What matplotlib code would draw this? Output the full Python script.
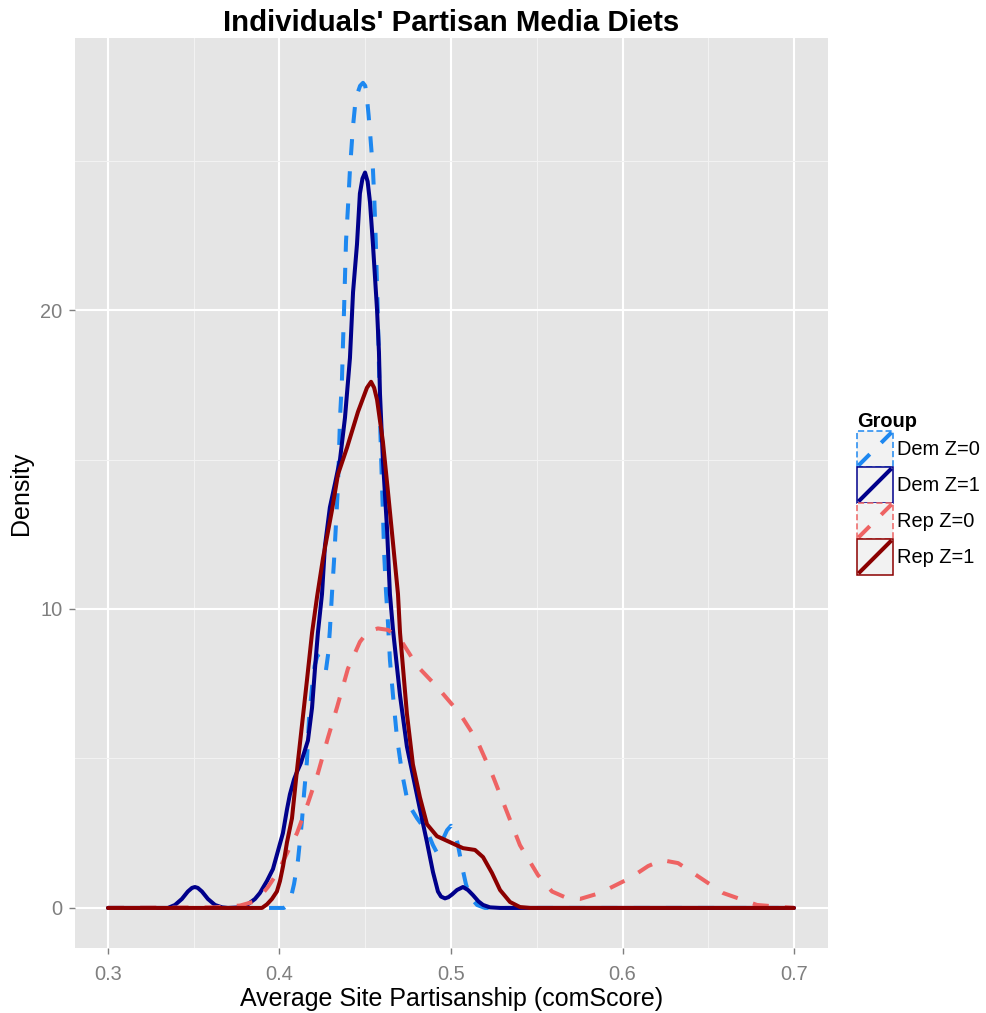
import matplotlib
matplotlib.use("Agg")
import matplotlib.pyplot as plt
from matplotlib.legend_handler import HandlerBase
from matplotlib.lines import Line2D
from matplotlib.patches import Rectangle
from matplotlib.ticker import MultipleLocator

plt.rcParams['font.family'] = ['Liberation Sans', 'DejaVu Sans']

# density curves (x = partisanship, y = density)
dem0_x = [0.300, 0.400, 0.4026, 0.4045, 0.4065, 0.4085, 0.4108, 0.4131, 0.4143, 0.4160,
          0.4172, 0.4190, 0.4205, 0.4222, 0.4240, 0.4255, 0.4271, 0.4284, 0.4294, 0.4306,
          0.4318, 0.4330, 0.4341, 0.4347, 0.4353, 0.4364, 0.4370, 0.4376, 0.4382, 0.4388,
          0.4399, 0.4411, 0.4428, 0.4440, 0.4452, 0.4470, 0.4487, 0.4500, 0.4510, 0.4520,
          0.4530, 0.4545, 0.4553, 0.4561, 0.4567, 0.4573, 0.4580, 0.4586, 0.4592, 0.4598,
          0.4604, 0.4610, 0.4621, 0.4633, 0.4644, 0.4662, 0.4685, 0.4715, 0.4749, 0.4802,
          0.4866, 0.4895, 0.4918, 0.4936, 0.4953, 0.4977, 0.5000, 0.5023, 0.5041, 0.5064,
          0.5087, 0.5111, 0.5152, 0.5198, 0.700]
dem0_y = [0.0, 0.0, 0.0, 0.08, 0.3, 0.8, 1.6, 2.9, 3.8, 4.9,
          6.3, 7.4, 8.1, 8.45, 8.3, 8.0, 7.95, 8.5, 9.3, 10.5,
          11.6, 12.9, 14.1, 15.2, 16.4, 17.6, 18.8, 19.9, 21.1, 22.3,
          23.4, 24.7, 26.1, 26.8, 27.2, 27.5, 27.6, 27.5, 27.1, 26.5,
          25.8, 24.7, 23.7, 22.4, 21.2, 20.0, 18.2, 16.4, 15.2, 14.1,
          13.1, 11.9, 10.6, 9.5, 8.3, 7.1, 5.7, 4.5, 3.5, 3.0,
          2.5, 2.1, 1.85, 1.95, 2.3, 2.6, 2.75, 2.5, 2.1, 1.4,
          0.8, 0.37, 0.1, 0.0, 0.0]

dem1_x = [0.300, 0.3350, 0.3391, 0.3431, 0.3466, 0.3490, 0.3507, 0.3524, 0.3548, 0.3583,
          0.3624, 0.3665, 0.3700, 0.3770, 0.3810, 0.3857, 0.3886, 0.3927, 0.3962, 0.3991,
          0.4020, 0.4044, 0.4061, 0.4085, 0.4102, 0.4125, 0.4166, 0.4190, 0.4207, 0.4224,
          0.4248, 0.4265, 0.4294, 0.4324, 0.4353, 0.4382, 0.4411, 0.4429, 0.4452, 0.4469,
          0.4484, 0.4499, 0.4514, 0.4528, 0.4545, 0.4569, 0.4580, 0.4586, 0.4603, 0.4627,
          0.4644, 0.4662, 0.4703, 0.4743, 0.4761, 0.4819, 0.4860, 0.4895, 0.4924, 0.4942,
          0.4965, 0.4985, 0.5006, 0.5035, 0.5070, 0.5099, 0.5128, 0.5160, 0.5187, 0.5227,
          0.5286, 0.700]
dem1_y = [0.0, 0.0, 0.1, 0.3, 0.55, 0.67, 0.7, 0.67, 0.55, 0.3,
          0.1, 0.02, 0.0, 0.02, 0.1, 0.3, 0.5, 0.9, 1.3, 1.9,
          2.5, 3.3, 3.8, 4.3, 4.55, 4.85, 5.6, 6.7, 8.0, 9.2,
          10.5, 12.1, 13.4, 14.2, 15.0, 16.4, 18.4, 20.6, 22.2, 23.9,
          24.4, 24.6, 24.3, 23.6, 22.2, 20.0, 18.6, 17.2, 15.0, 12.7,
          10.5, 9.3, 7.1, 5.4, 4.9, 3.3, 2.2, 1.2, 0.55, 0.38,
          0.32, 0.36, 0.45, 0.6, 0.7, 0.6, 0.43, 0.22, 0.1, 0.02,
          0.0, 0.0]

rep0_x = [0.300, 0.3624, 0.3770, 0.3845, 0.3886, 0.3933, 0.3991, 0.4050, 0.4102, 0.4166,
          0.4224, 0.4283, 0.4335, 0.4399, 0.4469, 0.4516, 0.4574, 0.4633, 0.4703, 0.4802,
          0.4918, 0.5052, 0.5152, 0.5245, 0.5327, 0.5402, 0.5507, 0.5589, 0.5676, 0.5752,
          0.5869, 0.6044, 0.6149, 0.6230, 0.6324, 0.6411, 0.6586, 0.6784, 0.6977, 0.700]
rep0_y = [0.0, 0.02, 0.08, 0.2, 0.37, 0.7, 1.2, 1.9, 2.5, 3.5,
          4.5, 5.7, 6.7, 8.0, 8.9, 9.25, 9.35, 9.3, 9.0, 8.1,
          7.4, 6.5, 5.6, 4.4, 3.2, 2.1, 1.1, 0.55, 0.33, 0.3,
          0.5, 1.0, 1.4, 1.6, 1.5, 1.17, 0.5, 0.1, 0.01, 0.0]

rep1_x = [0.300, 0.3898, 0.3927, 0.3956, 0.3985, 0.4003, 0.4021, 0.4044, 0.4073, 0.4102,
          0.4131, 0.4160, 0.4190, 0.4219, 0.4254, 0.4306, 0.4341, 0.4394, 0.4458, 0.4510,
          0.4534, 0.4552, 0.4569, 0.4603, 0.4633, 0.4662, 0.4691, 0.4703, 0.4743, 0.4778,
          0.4819, 0.4860, 0.4918, 0.4994, 0.5070, 0.5140, 0.5187, 0.5239, 0.5286, 0.5344,
          0.5402, 0.5461, 0.700]
rep1_y = [0.0, 0.0, 0.12, 0.3, 0.55, 0.9, 1.4, 2.2, 3.0, 4.6,
          6.1, 7.6, 9.2, 10.4, 11.7, 13.3, 14.5, 15.4, 16.6, 17.4,
          17.6, 17.4, 17.0, 15.6, 13.9, 12.2, 10.5, 9.2, 6.5, 4.8,
          3.7, 2.8, 2.4, 2.2, 2.0, 1.94, 1.7, 1.17, 0.6, 0.2,
          0.03, 0.0, 0.0]

groups = ["Dem Z=0", "Dem Z=1", "Rep Z=0", "Rep Z=1"]
curves = [(dem0_x, dem0_y), (dem1_x, dem1_y), (rep0_x, rep0_y), (rep1_x, rep1_y)]
colors = ["#1E88F0", "#00008B", "#EE6363", "#8B0000"]
dashed = [True, False, True, False]

x_ticks = [0.3, 0.4, 0.5, 0.6, 0.7]
y_ticks = [0, 10, 20]

LW = 2.9
DASH = (0, (4, 4))


class KeyHandler(HandlerBase):
    # ggplot-style density key: grey box with coloured outline and a diagonal
    def __init__(self, color, is_dashed):
        super().__init__()
        self.color = color
        self.ls = DASH if is_dashed else '-'
        self.box_ls = (0, (4, 2)) if is_dashed else '-'

    def create_artists(self, legend, orig_handle, xdescent, ydescent,
                       width, height, fontsize, trans):
        x0, y0 = -xdescent, -ydescent
        box = Rectangle((x0, y0), width, height, facecolor='#F2F2F2',
                        edgecolor=self.color, linestyle=self.box_ls, lw=1.1,
                        transform=trans)
        diag = Line2D([x0 + 1, x0 + width - 1], [y0 + 1, y0 + height - 1],
                      color=self.color, lw=LW, linestyle=self.ls,
                      solid_capstyle='butt', dash_capstyle='butt',
                      transform=trans)
        return [box, diag]


fig = plt.figure(figsize=(9.87, 10.13), dpi=100)
ax = fig.add_axes([75 / 987, 1 - 948 / 1013, (828 - 75) / 987, (948 - 38) / 1013])
ax.set_facecolor('#E5E5E5')

handles = []
for name, (xs, ys), col, d in zip(groups, curves, colors, dashed):
    ln, = ax.plot(xs, ys, color=col, lw=LW, linestyle=DASH if d else '-',
                  solid_capstyle='round', dash_capstyle='butt',
                  solid_joinstyle='round', dash_joinstyle='round', label=name)
    handles.append(ln)

ax.set_xlim(0.2808, 0.7198)
ax.set_ylim(-1.34, 29.1)
ax.set_xticks(x_ticks)
ax.set_xticklabels([f"{t:.1f}" for t in x_ticks])
ax.set_yticks(y_ticks)
ax.xaxis.set_minor_locator(MultipleLocator(0.05))
ax.yaxis.set_minor_locator(MultipleLocator(5))
ax.grid(which='major', color='white', lw=1.5)
ax.grid(which='minor', color='#F2F2F2', lw=0.75)
ax.set_axisbelow(True)
for s in ax.spines.values():
    s.set_visible(False)
ax.tick_params(which='major', length=4.5, width=1.0, color='#7F7F7F',
               labelcolor='#7F7F7F', labelsize=14.4, pad=4.5)
ax.tick_params(axis='x', which='major', pad=8)
ax.tick_params(which='minor', length=0)

ax.set_xlabel("Average Site Partisanship (comScore)", fontsize=18, labelpad=2)
ax.set_ylabel("Density", fontsize=18, labelpad=5)
ax.set_title("Individuals' Partisan Media Diets", fontsize=21.2,
             fontweight='bold', pad=5)

fig.legend(handles, groups, loc='upper left',
           bbox_to_anchor=(857 / 987, 1 - 412 / 1013),
           handler_map={h: KeyHandler(c, d) for h, c, d in zip(handles, colors, dashed)},
           frameon=False, fontsize=14.4, title="Group", alignment='left',
           title_fontproperties={'weight': 'bold', 'size': 14.4},
           borderpad=0, borderaxespad=0, labelspacing=0,
           handlelength=1.8, handleheight=2.39, handletextpad=0.2)

fig.savefig("out.png", dpi=100)
